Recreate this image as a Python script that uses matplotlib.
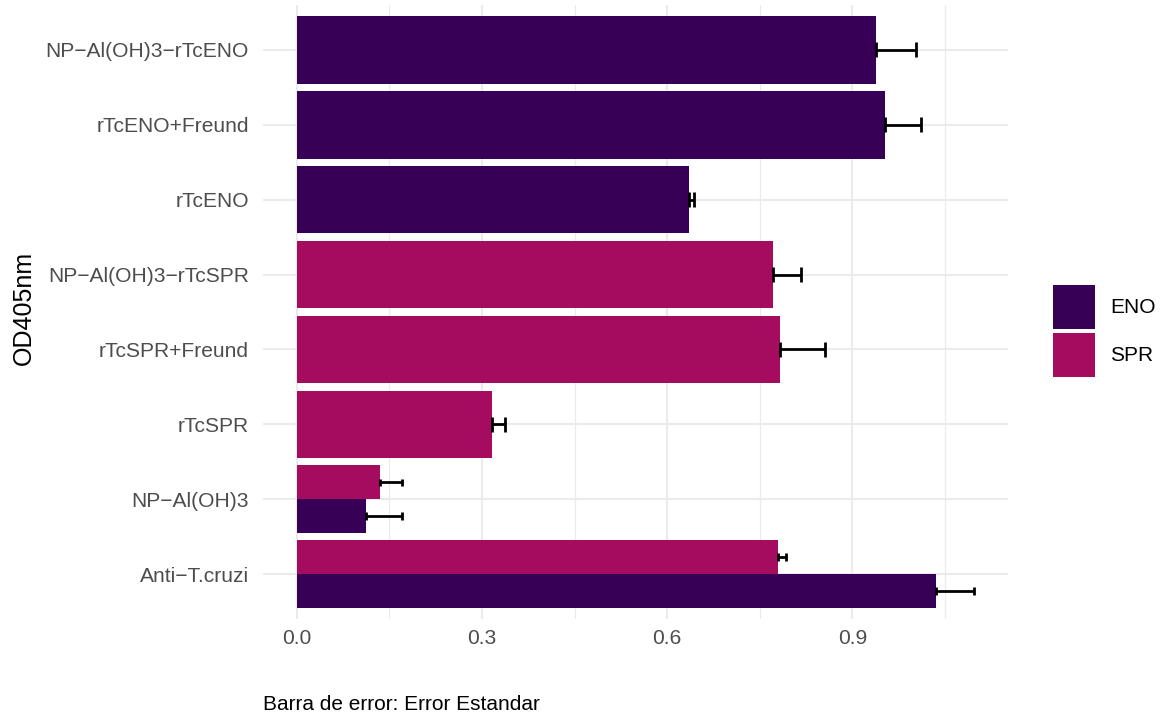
import matplotlib.pyplot as plt
from matplotlib.patches import Patch

plt.rcParams["font.family"] = ["Liberation Sans", "DejaVu Sans"]

# Grupos, de arriba hacia abajo
grupos = ["NP−Al(OH)3−rTcENO", "rTcENO+Freund", "rTcENO", "NP−Al(OH)3−rTcSPR",
          "rTcSPR+Freund", "rTcSPR", "NP−Al(OH)3", "Anti−T.cruzi"]

# Antigeno ENO
eno_grupos = ["NP−Al(OH)3−rTcENO", "rTcENO+Freund", "rTcENO", "NP−Al(OH)3", "Anti−T.cruzi"]
eno_media = [0.938, 0.953, 0.635, 0.112, 1.035]
eno_se = [0.065, 0.058, 0.008, 0.058, 0.062]

# Antigeno SPR
spr_grupos = ["NP−Al(OH)3−rTcSPR", "rTcSPR+Freund", "rTcSPR", "NP−Al(OH)3", "Anti−T.cruzi"]
spr_media = [0.771, 0.783, 0.316, 0.134, 0.780]
spr_se = [0.046, 0.073, 0.021, 0.036, 0.012]

colores = {"ENO": "#370056", "SPR": "#A50B5F"}

n = len(grupos)
pos = {g: n - i for i, g in enumerate(grupos)}

series = [("ENO", eno_grupos, eno_media, eno_se), ("SPR", spr_grupos, spr_media, spr_se)]

# cuantas series tiene cada grupo (para el dodge)
conteo = {g: 0 for g in grupos}
for _, gs, _, _ in series:
    for g in gs:
        conteo[g] += 1

fig = plt.figure(figsize=(11.67, 7.17), dpi=100)
ax = fig.add_axes([263 / 1167, 1 - 619 / 717, (1008 - 263) / 1167, (619 - 5) / 717])

usados = {g: 0 for g in grupos}
for nombre, gs, medias, ses in series:
    for g, m, s in zip(gs, medias, ses):
        k = conteo[g]
        h = 0.9 / k
        y = pos[g] - 0.45 + h * (usados[g] + 0.5)
        usados[g] += 1
        ax.barh(y, m, height=h, color=colores[nombre], zorder=2)
        # barra de error: media -> media + se
        cap = 0.2 / k / 2
        ax.plot([m, m + s], [y, y], color="black", lw=2.0, zorder=3, solid_capstyle="butt")
        ax.plot([m, m], [y - cap, y + cap], color="black", lw=2.0, zorder=3, solid_capstyle="butt")
        ax.plot([m + s, m + s], [y - cap, y + cap], color="black", lw=2.0, zorder=3, solid_capstyle="butt")

ax.set_ylim(0.4, n + 0.6)
ax.set_yticks([pos[g] for g in grupos])
ax.set_yticklabels(grupos)
ax.set_xlim(-0.0548, 1.152)
ax.set_xticks([0, 0.3, 0.6, 0.9])
ax.set_xticklabels(["0.0", "0.3", "0.6", "0.9"])
ax.set_xticks([0.15, 0.45, 0.75, 1.05], minor=True)

ax.grid(True, which="major", color="#EBEBEB", lw=1.5, zorder=0)
ax.grid(True, which="minor", axis="x", color="#EBEBEB", lw=0.9, zorder=0)
ax.set_axisbelow(True)
for sp in ax.spines.values():
    sp.set_visible(False)
ax.tick_params(which="both", length=0, labelsize=15.1, labelcolor="#4D4D4D")
ax.tick_params(axis="y", pad=10)
ax.tick_params(axis="x", pad=7)

fig.text(24 / 1167, 1 - 308 / 717, "OD405nm", rotation=90, fontsize=18,
         ha="center", va="center", color="black")
fig.text(263 / 1167, 1 - 705 / 717, "Barra de error: Error Estandar", fontsize=15,
         ha="left", va="center", color="black")

handles = [Patch(facecolor=colores["ENO"], label="ENO"),
           Patch(facecolor=colores["SPR"], label="SPR")]
fig.legend(handles=handles, loc="center left", bbox_to_anchor=(1045 / 1167, 1 - 331 / 717),
           frameon=False, fontsize=15, handlelength=2.0, handleheight=2.85,
           labelspacing=0.19, handletextpad=0.72, borderaxespad=0)

fig.savefig("out.png", dpi=100)
